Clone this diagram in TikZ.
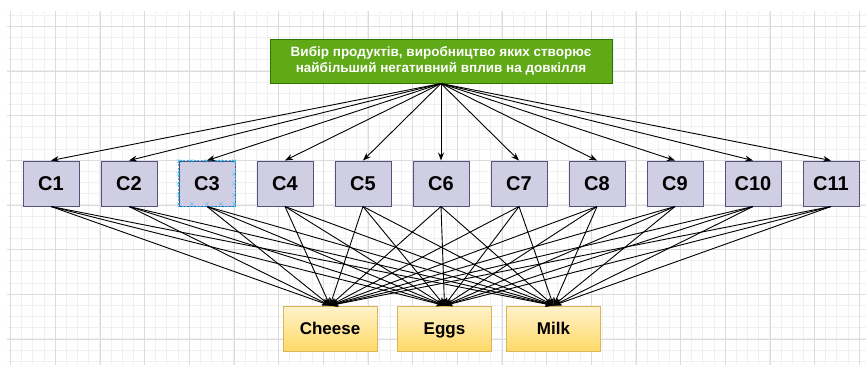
\documentclass[tikz,border=0pt]{standalone}
\usepackage{fontspec}
\setmainfont{Liberation Sans}
\usetikzlibrary{arrows.meta}
\definecolor{goalfill}{HTML}{60A917}
\definecolor{goalline}{HTML}{2D7600}
\definecolor{critfill}{HTML}{D0CEE2}
\definecolor{critline}{HTML}{56517E}
\definecolor{altlight}{HTML}{FFF2CC}
\definecolor{altdark}{HTML}{FFD966}
\definecolor{altline}{HTML}{D6B656}
\definecolor{selblue}{HTML}{29B6F2}
\definecolor{gridminor}{HTML}{F0F0F0}
\definecolor{gridmajor}{HTML}{DCDCDC}
\tikzset{
	goal/.style={draw=goalline, fill=goalfill, line width=1pt, minimum width=342pt, minimum height=44pt,
		text=white, align=center, font=\bfseries\fontsize{13.5}{15.5}\selectfont, inner sep=0pt},
	crit/.style={draw=critline, fill=critfill, line width=1pt, minimum width=56pt, minimum height=45pt,
		font=\bfseries\fontsize{20}{24}\selectfont, inner sep=0pt, text height=14.4pt, text depth=0pt},
	alt/.style={draw=altline, top color=altlight, bottom color=altdark, line width=1pt, minimum width=94pt,
		minimum height=45pt, font=\bfseries\fontsize{17}{20}\selectfont, inner sep=0pt,
		text height=12.3pt, text depth=0pt},
	link/.style={line width=0.9pt, -{Stealth[length=8pt,width=6pt]}},
	selmark/.style={selblue, line width=0.8pt}
}
\begin{document}
\begin{tikzpicture}[x=1pt, y=-1pt]
		%%%%% START %%%%%
		\useasboundingbox (0, 0) rectangle (866, 365);
		
		% grid
		\begin{scope}
			\clip (7, 11) rectangle (866, 365);
			\foreach \i in {0,...,77} \draw[gridminor, line width=1pt] (10.6+11.167*\i, 0) -- (10.6+11.167*\i, 365);
			\foreach \j in {0,...,31} \draw[gridminor, line width=1pt] (0, 15.1+11.167*\j) -- (866, 15.1+11.167*\j);
			\foreach \i in {0,...,19} \draw[gridmajor, line width=0.8pt] (10.6+44.67*\i, 0) -- (10.6+44.67*\i, 365);
			\foreach \j in {0,...,7} \draw[gridmajor, line width=0.8pt] (0, 26.3+44.67*\j) -- (866, 26.3+44.67*\j);
		\end{scope}
		
		\node[goal] (goal) at (441, 61) {Вибір продуктів, виробництво яких створює\\найбільший негативний вплив на довкілля};
		
		\foreach \i in {1,...,11}
			\node[crit] (c\i) at (51+78*\i-78, 183.5) {C\i};
		
		\node[alt] (cheese) at (330, 328.5) {Cheese};
		\node[alt] (eggs) at (444.5, 328.5) {Eggs};
		\node[alt] (milk) at (553.5, 328.5) {Milk};
		
		% selection marks on C3
		\draw[selmark, dashed, dash pattern=on 2pt off 1.5pt] (c3.north west) rectangle (c3.south east);
		\foreach \px in {179,192,207,221,234}
			\foreach \py in {161,204.5}
				\node[selmark, font=\fontsize{8}{8}\selectfont, inner sep=0pt] at (\px, \py) {$\times$};
		\foreach \py in {174,184,195}
			\foreach \px in {178.5,234.5}
				\node[selmark, font=\fontsize{8}{8}\selectfont, inner sep=0pt] at (\px, \py) {$\times$};
		
		% links
		\foreach \i in {1,...,11}
			\draw[link] (goal.south) -- (c\i.north);
		\foreach \i in {1,...,11}
			\foreach \a in {cheese,eggs,milk}
				\draw[link] (c\i.south) -- (\a.north);
		
		%%%%% END %%%%%
	\end{tikzpicture}
\end{document}
